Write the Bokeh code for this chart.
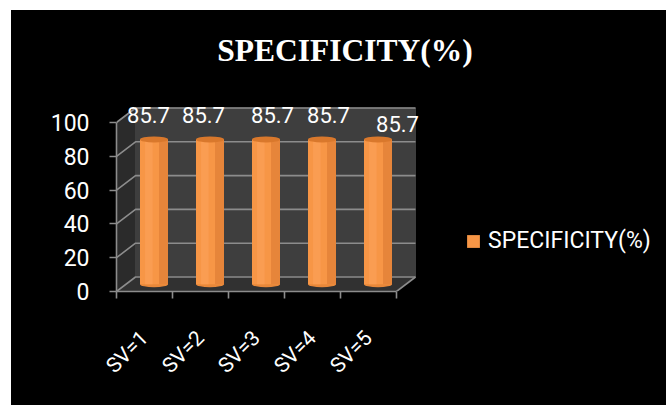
from math import pi
from bokeh.plotting import figure
from bokeh.models import Range1d, FixedTicker, Legend, LegendItem
from bokeh.core.properties import value
from bokeh.embed import file_html
from bokeh.resources import INLINE

# ---- data ----
categories = ["SV=1", "SV=2", "SV=3", "SV=4", "SV=5"]
specificity = [85.7, 85.7, 85.7, 85.7, 85.7]
y_ticks = [0, 20, 40, 60, 80, 100]
title_text = "SPECIFICITY(%)"
series_name = "SPECIFICITY(%)"

# ---- layout / style ----
W, H = 655, 395
PX = 56.0          # px per category unit
PY = 1.69          # px per value unit
ML, MB = 105, 114
frame_w = W - ML
frame_h = H - MB
x0 = -0.5
x1 = x0 + frame_w / PX
y1 = frame_h / PY
DX = 19 / PX       # 3-D depth offset (x)
DY = 14.5 / PY     # 3-D depth offset (y)
n = len(categories)
xs = list(range(n))
left, right = -0.5, n - 0.5
FONT = "Roboto"
GRID = "#8c8c8c"
label_nudge_x = [-5.5, -6.5, 6.5, 6.5, 19.5]   # px, data-label placement
label_nudge_y = [0, 0, 0, 0, 9]                # px, downward

p = figure(width=W, height=H, x_range=Range1d(x0, x1), y_range=Range1d(0, y1),
           output_backend="svg", toolbar_location=None,
           min_border_left=ML, min_border_right=0, min_border_top=0, min_border_bottom=MB,
           background_fill_color="black", border_fill_color="black", outline_line_color=None)
p.styles = {"margin-left": "11px", "margin-top": "10px", "background-color": "black"}
p.xgrid.visible = False
p.ygrid.visible = False

# walls
p.patch([left, left + DX, left + DX, left], [0, DY, 100 + DY, 100], color="#2b2b2b")
p.patch([left + DX, right + DX, right + DX, left + DX], [DY, DY, 100 + DY, 100 + DY], color="#3e3e3e")
p.patch([left, right, right + DX, left + DX], [0, 0, DY, DY], color="#313131")

# gridlines
p.multi_line([[left, left + DX, right + DX] for _ in y_ticks],
             [[v, v + DY, v + DY] for v in y_ticks], line_color=GRID, line_width=1.6)
p.line([right, right + DX], [0, DY], line_color=GRID, line_width=1.6)

# cylinders
bx = [x + DX / 2 for x in xs]
base = DY / 2
tops = [v + DY / 2 for v in specificity]
BW = 28 / PX
EH = 6 / PY
p.ellipse(x=bx, y=[base] * n, width=BW, height=EH, fill_color="#e8883a", line_color=None)
body = p.quad(left=[b - BW / 2 for b in bx], right=[b + BW / 2 for b in bx],
              bottom=[base] * n, top=tops, fill_color="#f79646", line_color=None)
p.quad(left=[b + BW * 0.18 for b in bx], right=[b + BW / 2 for b in bx],
       bottom=[base] * n, top=tops, fill_color="#e6853a", line_color=None)
p.quad(left=[b - BW * 0.32 for b in bx], right=[b - BW * 0.05 for b in bx],
       bottom=[base] * n, top=tops, fill_color="#fa9d52", line_color=None)
p.ellipse(x=bx, y=tops, width=BW, height=EH, fill_color="#d9782c", line_color=None)

# data labels
p.text(x=[b + nx / PX for b, nx in zip(bx, label_nudge_x)],
       y=[t + (24 - ny) / PY for t, ny in zip(tops, label_nudge_y)],
       text=[f"{v:.1f}" for v in specificity], text_color="white",
       text_font=value(FONT), text_font_size="22px", text_align="center",
       text_baseline="alphabetic")

# title
p.text(x=[-0.5 + (344.5 - 116) / PX], y=[(291 - 50) / PY], text=[title_text],
       text_color="white", text_font=value("Liberation Serif"), text_font_style="bold",
       text_font_size="31.5px", text_align="center", text_baseline="alphabetic")

# axes
ya = p.yaxis[0]
ya.ticker = FixedTicker(ticks=y_ticks)
ya.bounds = (0, 100)
ya.axis_line_color = GRID
ya.axis_line_width = 1.6
ya.major_tick_line_color = GRID
ya.major_tick_line_width = 1.6
ya.major_tick_out = 7
ya.major_tick_in = 0
ya.minor_tick_line_color = None
ya.major_label_text_color = "white"
ya.major_label_text_font = FONT
ya.major_label_text_font_size = "23px"
ya.major_label_standoff = 20

xa = p.xaxis[0]
xa.ticker = FixedTicker(ticks=xs, minor_ticks=[-0.5 + i for i in range(n + 1)])
xa.major_label_overrides = {i: c for i, c in enumerate(categories)}
xa.bounds = (left, right)
xa.axis_line_color = GRID
xa.axis_line_width = 1.6
xa.major_tick_line_color = None
xa.major_tick_out = 0
xa.major_tick_in = 0
xa.minor_tick_line_color = GRID
xa.minor_tick_line_width = 1.6
xa.minor_tick_out = 7
xa.minor_tick_in = 0
xa.major_label_orientation = pi / 4
xa.major_label_standoff = 36
xa.major_label_text_color = "white"
xa.major_label_text_font = FONT
xa.major_label_text_font_size = "21px"

legend = Legend(items=[LegendItem(label=series_name, renderers=[body])],
                location=(349, 37), glyph_width=16, glyph_height=16,
                label_text_font=FONT, label_text_font_size="23px", label_text_color="white",
                background_fill_alpha=0, border_line_color=None, padding=0, margin=0,
                label_standoff=7)
p.add_layout(legend)

open("out.html", "w").write(file_html(p, INLINE))
